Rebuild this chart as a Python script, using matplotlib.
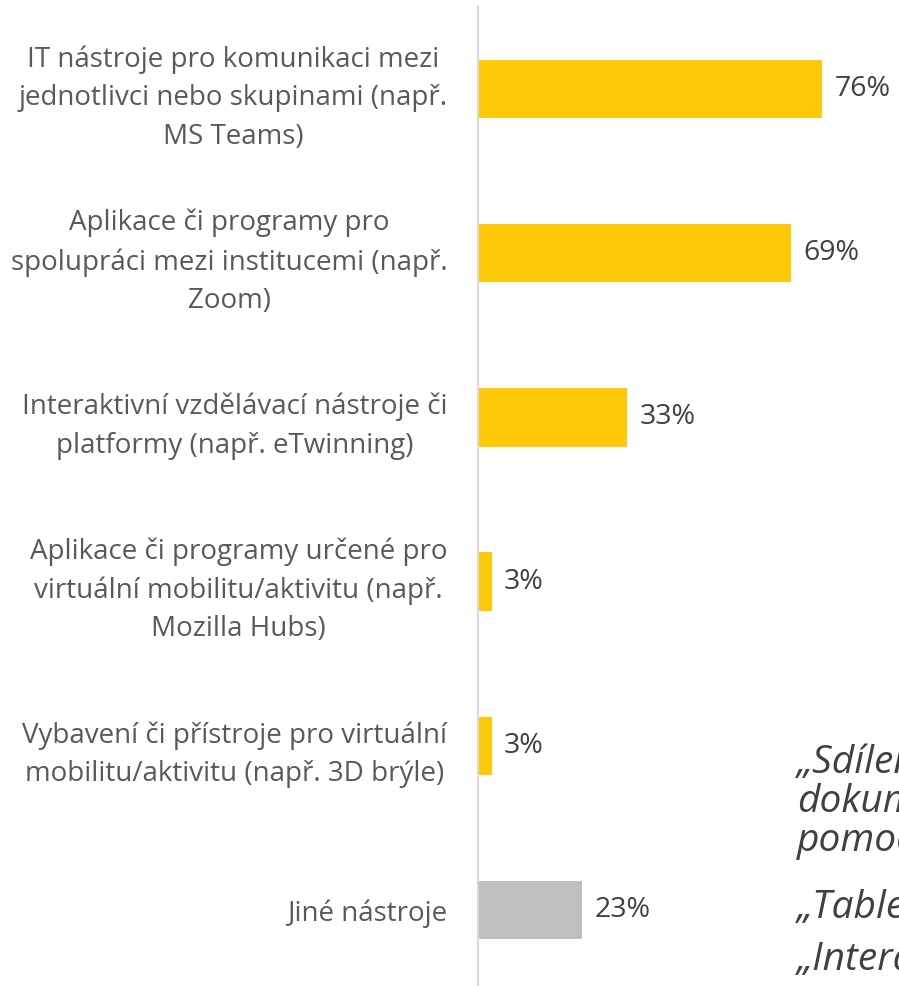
import matplotlib.pyplot as plt
import numpy as np

# Categories (top to bottom) and shares in percent
labels = [
    'IT nástroje pro komunikaci mezi\njednotlivci nebo skupinami (např.\nMS Teams)',
    'Aplikace či programy pro\nspolupráci mezi institucemi (např.\nZoom)',
    'Interaktivní vzdělávací nástroje či\nplatformy (např. eTwinning)',
    'Aplikace či programy určené pro\nvirtuální mobilitu/aktivitu (např.\nMozilla Hubs)',
    'Vybavení či přístroje pro virtuální\nmobilitu/aktivitu (např. 3D brýle)',
    'Jiné nástroje',
]
values = [76, 69, 33, 3, 3, 23]
colors = ['#FFC907'] * 5 + ['#BFBFBF']

# quote lines on the right (cut off by the page edge in the original)
quote_lines = ['„Sdílení', 'dokumentů', 'pomocí cloudu“', '„Tablety“', '„Interaktivní tabule“']
quote_baselines = [773, 812, 851, 918, 970]

plt.rcParams['font.family'] = ['Open Sans', 'DejaVu Sans']

W, H = 899, 986
fig = plt.figure(figsize=(W / 100, H / 100), dpi=100)
# axes placed in pixel terms: left edge at the category axis line
ax = fig.add_axes([478 / W, (H - 992) / H, 453 / W, 985 / H])

y = np.arange(len(values))
ax.barh(y, values, height=0.355, color=colors)
ax.set_xlim(0, 100)
ax.set_ylim(len(values) - 0.5, -0.5)

for yi, v in zip(y, values):
    ax.annotate(f'{v}%', (v, yi), xytext=(9, 0), textcoords='offset points',
                va='center', ha='left', fontsize=20.5, color='#404040')

ax.set_yticks(y)
ax.set_yticklabels(labels, fontsize=20, color='#595959', linespacing=1.5)
for t in ax.get_yticklabels():
    t.set_multialignment('center')
ax.tick_params(axis='y', length=0, pad=22)
ax.set_xticks([])
for s in ['top', 'right', 'bottom']:
    ax.spines[s].set_visible(False)
ax.spines['left'].set_color('#D9D9D9')
ax.spines['left'].set_linewidth(1.5)

for line, yy in zip(quote_lines, quote_baselines):
    fig.text(797 / W, 1 - yy / H, line, fontsize=28, style='italic', color='#404040',
             va='baseline', ha='left')

fig.savefig('out.png', dpi=100)
